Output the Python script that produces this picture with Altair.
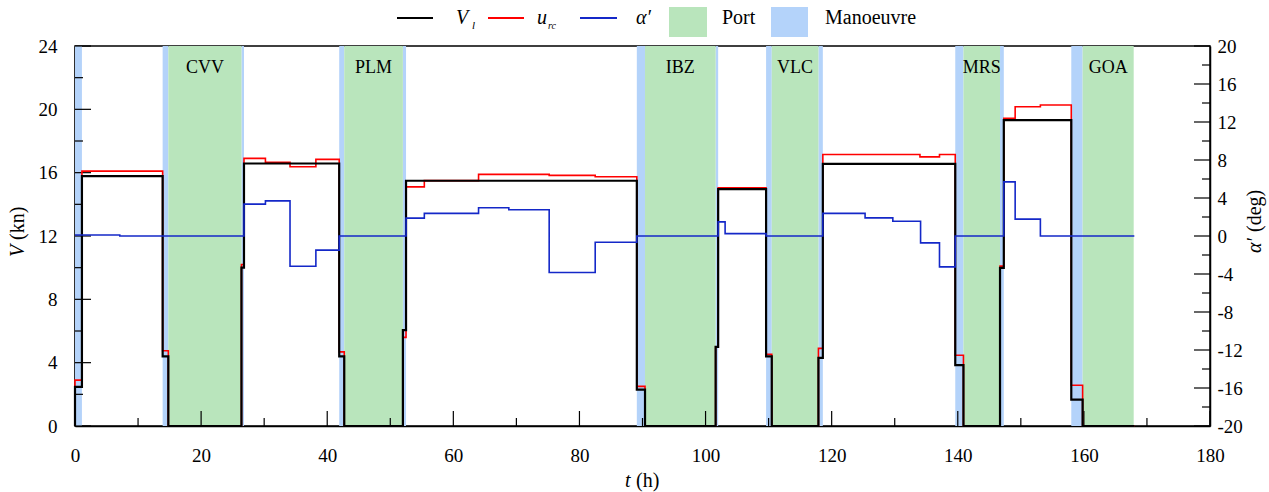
import altair as alt
import pandas as pd

# ---------------- data ----------------
t_V = [0, 0, 1.1, 13.9, 14.8, 26.4, 26.8, 41.9, 42.7, 52.0, 52.5, 89.1, 90.4,
       101.6, 102.0, 109.6, 110.5, 117.9, 118.6, 139.6, 140.9, 146.7, 147.3,
       158.0, 159.8, 168.0]
V_l = [0, 2.47, 15.78, 4.4, 0, 10.0, 16.58, 4.4, 0, 6.05, 15.49, 2.3, 0,
       5.0, 14.96, 4.4, 0, 4.3, 16.56, 3.84, 0, 9.99, 19.32,
       1.67, 0, 0]

t_u = [0, 0, 1.1, 13.9, 14.8, 26.4, 26.8, 30.2, 34.1, 38.2, 41.9, 42.7,
       52.0, 52.5, 55.4, 64.0, 75.2, 82.5, 89.1, 90.4,
       101.6, 102.0, 109.6, 110.5, 117.9, 118.6, 134.0, 137.1, 139.6, 140.9,
       146.7, 147.3, 149.1, 153.1, 158.0, 159.8, 168.0]
u_rc = [0, 2.9, 16.1, 4.75, 0, 10.2, 16.9, 16.65, 16.37, 16.84, 4.68, 0,
        5.6, 15.1, 15.5, 15.89, 15.83, 15.74, 2.5, 0,
        5.0, 15.05, 4.53, 0, 4.9, 17.15, 17.0, 17.15, 4.47, 0,
        10.1, 19.43, 20.16, 20.27, 2.57, 0, 0]

t_a = [0, 7.1, 26.8, 30.2, 34.1, 38.2, 41.9, 52.5, 55.4, 64.0, 68.8, 75.2,
       82.5, 89.1, 102.0, 103.1, 109.6, 118.6, 125.3, 129.7, 134.1, 137.1,
       139.6, 147.3, 149.1, 153.1, 168.0]
alpha = [0.1, 0, 3.36, 3.7, -3.18, -1.49, 0, 1.88, 2.38, 2.97, 2.76, -3.84,
         -0.65, 0, 1.49, 0.25, 0, 2.38, 1.91, 1.56, -0.72, -3.25,
         0, 5.7, 1.78, 0, 0]

port_names = ["CVV", "PLM", "IBZ", "VLC", "MRS", "GOA"]
port_start = [14.8, 42.7, 90.4, 110.5, 140.9, 159.8]
port_end = [26.4, 52.0, 101.6, 117.9, 146.7, 167.9]

man_start = [0, 13.9, 26.4, 41.9, 52.0, 89.1, 101.6, 109.6, 117.9, 139.6, 146.7, 158.0]
man_end = [1.1, 14.8, 26.8, 42.7, 52.5, 90.4, 102.0, 110.5, 118.6, 140.9, 147.3, 159.8]

x_major = list(range(0, 181, 20))
x_minor = list(range(10, 181, 20))
yl_major = list(range(0, 25, 4))
yl_minor = list(range(2, 23, 4))
yr_major = list(range(-20, 21, 4))
yr_minor = list(range(-18, 19, 4))

# ---------------- styling ----------------
W, H = 1135, 380
FONT = "Liberation Serif"
GREEN = "#b9e5bc"
MBLUE = "#b4d3fa"
RED = "#ff0000"
BLUE = "#1428c8"

dfV = pd.DataFrame({"t": t_V, "v": V_l, "i": range(len(t_V))})
dfU = pd.DataFrame({"t": t_u, "v": u_rc, "i": range(len(t_u))})
dfA = pd.DataFrame({"t": t_a, "v": alpha, "i": range(len(t_a))})
dfP = pd.DataFrame({"name": port_names, "s": port_start, "e": port_end})
dfM = pd.DataFrame({"s": man_start, "e": man_end})
one = pd.DataFrame({"a": [0]})

xs = alt.Scale(domain=[0, 180], nice=False, zero=False)
yls = alt.Scale(domain=[0, 24], nice=False, zero=False)
yrs = alt.Scale(domain=[-20, 20], nice=False, zero=False)

x_axis = alt.Axis(values=x_major, ticks=False, labelPadding=20, title=None,
                  grid=False, labelFlush=False, labelOverlap=False)
yl_axis = alt.Axis(values=yl_major, ticks=False, labelPadding=18, title=None,
                   grid=False, labelOverlap=False)
yr_axis = alt.Axis(values=yr_major, ticks=False, labelPadding=7, title=None,
                   grid=False, orient="right", labelAlign="left", labelOverlap=False,
                   labelExpr="datum.value + ''")

X = lambda f: alt.X(f, scale=xs, axis=x_axis)
X2 = lambda f: alt.X2(f)

man = alt.Chart(dfM).mark_rect(color=MBLUE).encode(
    x=X("s:Q"), x2=X2("e"), y=alt.value(0), y2=alt.value(H))
port = alt.Chart(dfP).mark_rect(color=GREEN).encode(
    x=X("s:Q"), x2=X2("e"), y=alt.value(0), y2=alt.value(H))
port_lbl = alt.Chart(dfP).transform_calculate(c="(datum.s + datum.e) / 2").mark_text(
    font=FONT, fontSize=18, color="black", baseline="middle", align="center").encode(
    x=X("c:Q"), y=alt.value(22), text="name:N")

def xticks(vals, ln):
    return alt.Chart(pd.DataFrame({"v": vals})).mark_rule(color="black", strokeWidth=1.2).encode(
        x=X("v:Q"), y=alt.value(H), y2=alt.value(H - ln))

def ylticks(vals, ln):
    return alt.Chart(pd.DataFrame({"v": vals})).mark_rule(color="black", strokeWidth=1.2).encode(
        y=alt.Y("v:Q", scale=yls, axis=yl_axis), x=alt.value(0), x2=alt.value(ln))

def yrticks(vals, ln):
    return alt.Chart(pd.DataFrame({"v": vals})).mark_rule(color="black", strokeWidth=1.2).encode(
        y=alt.Y("v:Q", scale=yrs, axis=yr_axis), x=alt.value(W), x2=alt.value(W - ln))

red_line = alt.Chart(dfU).mark_line(interpolate="step-after", color=RED, strokeWidth=1.6).encode(
    x=X("t:Q"), y=alt.Y("v:Q", scale=yls, axis=yl_axis), order="i:Q")
black_line = alt.Chart(dfV).mark_line(interpolate="step-after", color="black", strokeWidth=2.2).encode(
    x=X("t:Q"), y=alt.Y("v:Q", scale=yls, axis=yl_axis), order="i:Q")
blue_line = alt.Chart(dfA).mark_line(interpolate="step-after", color=BLUE, strokeWidth=1.6).encode(
    x=X("t:Q"), y=alt.Y("v:Q", scale=yrs, axis=yr_axis), order="i:Q")

# ---------- legend and titles (pixel placement) ----------
def txt(s, x, y, size=20, italic=False, angle=0, align="left"):
    kw = dict(font=FONT, fontSize=size, color="black", baseline="middle", align=align, text=s)
    if italic:
        kw["fontStyle"] = "italic"
    if angle:
        kw["angle"] = angle
    return alt.Chart(one).mark_text(**kw).encode(x=alt.value(x), y=alt.value(y))

def hline(x1, x2, y, color, w):
    return alt.Chart(one).mark_rule(color=color, strokeWidth=w).encode(
        x=alt.value(x1), x2=alt.value(x2), y=alt.value(y))

def box(x1, x2, y1, y2, color):
    return alt.Chart(one).mark_rect(color=color).encode(
        x=alt.value(x1), x2=alt.value(x2), y=alt.value(y1), y2=alt.value(y2))

LY = -28
legend = [
    hline(322, 358, LY, "black", 2.2),
    txt("V", 381, LY, italic=True), txt("l", 397, LY + 8, size=11, italic=True),
    hline(413, 449, LY, RED, 2),
    txt("u", 462, LY, italic=True), txt("rc", 473, LY + 8, size=10, italic=True),
    hline(505, 542, LY, BLUE, 2),
    txt("α′", 561, LY, italic=True),
    box(594, 632, -39, -9, GREEN), txt("Port", 647, LY),
    box(696, 733, -39, -9, MBLUE), txt("Manoeuvre", 750, LY),
]
titles = [
    txt("t", 550, 435, italic=True), txt("(h)", 561, 435),
    txt("V", -57, 211, italic=True, angle=270), txt("(kn)", -57, 194, angle=270),
    txt("α′", 1180, 207, italic=True, angle=270), txt("(deg)", 1180, 186, angle=270),
]

left = alt.layer(man, port, port_lbl,
                 xticks(x_major, 15), xticks(x_minor, 8),
                 ylticks(yl_major, 16), ylticks(yl_minor, 8),
                 red_line, black_line)
right = alt.layer(yrticks(yr_major, 16), yrticks(yr_minor, 8), blue_line)

chart = alt.layer(left, right, *legend, *titles).resolve_scale(y="independent").properties(
    width=W, height=H,
    autosize=alt.AutoSizeParams(type="none"),
    padding={"left": 75, "top": 46, "right": 59, "bottom": 66},
    background="white",
).configure_view(stroke="black", strokeWidth=1.5).configure_axis(
    labelFont=FONT, labelFontSize=19, labelColor="black",
    domainColor="black", domainWidth=1.5,
)

chart.save("out.html", embed_options={"renderer": "svg", "actions": False})
